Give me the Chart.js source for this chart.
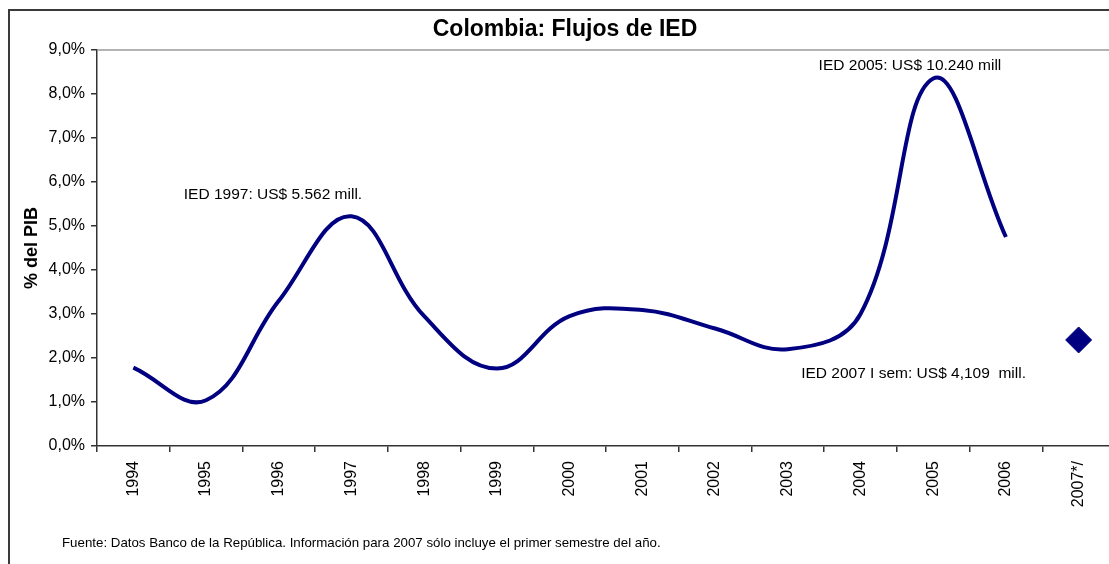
<!DOCTYPE html>
<html lang="es">
<head>
    <meta charset="UTF-8">
    <title>Colombia: Flujos de IED</title>
    <style>
        body { margin: 0; overflow: hidden; background: #fff; width: 1109px; height: 564px; position: relative; }
        #frame { position: absolute; left: 8px; top: 9px; width: 1140px; height: 600px; border: 2px solid #3a3a3a; box-sizing: border-box; }
        #chart { position: absolute; left: 0; top: 0; }
    </style>
</head>
<body>
    <div id="frame"></div>
    <canvas id="chart" width="1130" height="564"></canvas>

<script src="https://cdn.jsdelivr.net/npm/chart.js"></script>
<script>
    // datos
    const years = ['1994', '1995', '1996', '1997', '1998', '1999', '2000', '2001', '2002', '2003', '2004', '2005', '2006', '2007*/'];
    const iedPib = [1.78, 1.04, 3.3, 5.22, 2.95, 1.76, 2.95, 3.09, 2.67, 2.2, 3.0, 8.35, 4.75, null];
    const ied2007 = [null, null, null, null, null, null, null, null, null, null, null, null, null, 2.41];
    const yTicks = [0, 1, 2, 3, 4, 5, 6, 7, 8, 9];

    // notas: posicion en indice de categoria y valor del eje
    const notes = [
        { text: 'IED 1997: US$ 5.562 mill.', idx: 1.92, val: 5.72 },
        { text: 'IED 2005: US$ 10.240 mill', idx: 10.68, val: 8.64 },
        { text: 'IED 2007 I sem: US$ 4,109  mill.', idx: 10.73, val: 1.64 }
    ];

    const font = '"Liberation Sans", Arial, Helvetica, sans-serif';
    const navy = '#000080';

    const extras = {
        id: 'extras',
        afterDraw(chart) {
            const ctx = chart.ctx, a = chart.chartArea;
            const x = chart.scales.x, y = chart.scales.y;
            ctx.save();
            // linea superior gris del area
            ctx.strokeStyle = '#9a9a9a';
            ctx.lineWidth = 1.5;
            ctx.beginPath();
            ctx.moveTo(a.left, a.top);
            ctx.lineTo(chart.width, a.top);
            ctx.stroke();

            ctx.fillStyle = '#000';
            ctx.textAlign = 'center';
            ctx.textBaseline = 'middle';
            ctx.font = 'bold 23px ' + font;
            ctx.fillText('Colombia: Flujos de IED', 565, 30);

            ctx.font = '15.5px ' + font;
            notes.forEach(n => {
                ctx.fillText(n.text, x.getPixelForValue(n.idx), y.getPixelForValue(n.val));
            });

            ctx.textAlign = 'left';
            ctx.font = '13.3px ' + font;
            ctx.fillText('Fuente: Datos Banco de la República. Información para 2007 sólo incluye el primer semestre del año.', 62, 543);

            ctx.translate(32, 248);
            ctx.rotate(-Math.PI / 2);
            ctx.textAlign = 'center';
            ctx.font = 'bold 18px ' + font;
            ctx.fillText('% del PIB', 0, 0);
            ctx.restore();
        }
    };

    new Chart(document.getElementById('chart'), {
        type: 'line',
        data: {
            labels: years,
            datasets: [{
                data: iedPib,
                borderColor: navy,
                borderWidth: 4,
                tension: 0.4,
                pointRadius: 0,
                fill: false
            }, {
                data: ied2007,
                showLine: false,
                pointStyle: 'rectRot',
                pointRadius: 13,
                backgroundColor: navy,
                borderColor: navy,
                borderWidth: 1
            }]
        },
        options: {
            responsive: false,
            animation: false,
            layout: { padding: { left: 0, top: 50, right: 15, bottom: 0 } },
            plugins: { legend: { display: false }, tooltip: { enabled: false }, title: { display: false } },
            scales: {
                x: {
                    offset: true,
                    grid: { offset: true, drawOnChartArea: false, drawTicks: true, tickLength: 6, color: '#333', lineWidth: 1.5 },
                    border: { color: '#333', width: 1.5 },
                    ticks: { color: '#000', font: { family: font, size: 16 }, minRotation: 90, maxRotation: 90, padding: 9, autoSkip: false },
                    afterFit(s) { s.height = 118; }
                },
                y: {
                    min: 0,
                    max: 9,
                    afterBuildTicks(s) { s.ticks = yTicks.map(v => ({ value: v })); },
                    grid: { drawOnChartArea: false, drawTicks: true, tickLength: 6, color: '#333', lineWidth: 1.5 },
                    border: { color: '#333', width: 1.5 },
                    ticks: {
                        color: '#000',
                        font: { family: font, size: 16 },
                        padding: 6,
                        callback: v => v.toFixed(1).replace('.', ',') + '%'
                    },
                    afterFit(s) { s.width = 97; }
                }
            }
        },
        plugins: [extras]
    });
</script>
</body>
</html>
